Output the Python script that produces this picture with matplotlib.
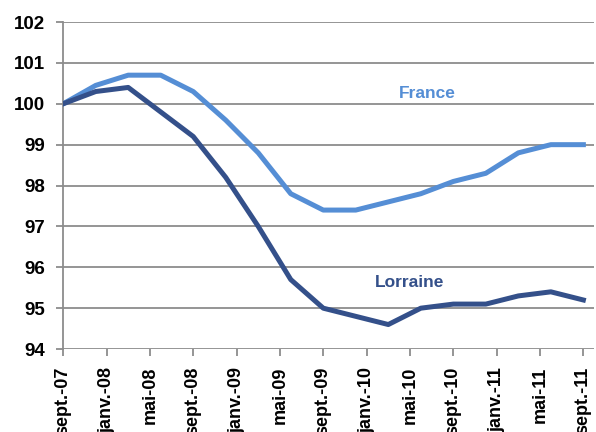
import matplotlib
matplotlib.use('Agg')
import matplotlib.pyplot as plt

plt.rcParams['font.family'] = ['Liberation Sans', 'DejaVu Sans']

# indice base 100 en sept.-07, données trimestrielles
mois = list(range(0, 49, 3))
france = [100, 100.45, 100.7, 100.7, 100.3, 99.6, 98.8, 97.8, 97.4,
          97.4, 97.6, 97.8, 98.1, 98.3, 98.8, 99.0, 99.0]
lorraine = [100, 100.3, 100.4, 99.8, 99.2, 98.2, 97.0, 95.7, 95.0,
            94.8, 94.6, 95.0, 95.1, 95.1, 95.3, 95.4, 95.2]
tick_mois = list(range(0, 49, 4))
tick_labels = ['sept.-07', 'janv.-08', 'mai-08', 'sept.-08', 'janv.-09', 'mai-09',
               'sept.-09', 'janv.-10', 'mai-10', 'sept.-10', 'janv.-11', 'mai-11',
               'sept.-11']

c_france = '#558ed5'
c_lorraine = '#34508a'

fig = plt.figure(figsize=(5.96, 4.32), dpi=100)
ax = fig.add_axes([0.106, 0.192, 0.891, 0.757])

ax.plot(mois, france, color=c_france, lw=3.6, solid_joinstyle='round', zorder=3)
ax.plot(mois, lorraine, color=c_lorraine, lw=3.6, solid_joinstyle='round', zorder=3)

ax.set_ylim(94, 102)
ax.set_xlim(0, 49)
ax.set_yticks(range(94, 103))
ax.set_xticks(tick_mois)
ax.set_xticklabels(tick_labels, rotation=90, fontsize=13, fontweight='bold')
for lab in ax.get_yticklabels():
    lab.set_fontsize(13.5)
    lab.set_fontweight('bold')

ax.yaxis.grid(True, color='#8c8c8c', lw=1.3)
ax.set_axisbelow(True)
for s in ['top', 'right', 'bottom']:
    ax.spines[s].set_visible(False)
ax.spines['left'].set_color('#8c8c8c')
ax.spines['left'].set_linewidth(1.3)
ax.tick_params(axis='both', colors='#8c8c8c', length=5, width=1.3, labelcolor='black')
ax.tick_params(axis='x', pad=8)
ax.tick_params(axis='y', pad=8)

ax.text(33.6, 100.26, 'France', color=c_france, fontsize=12.5, fontweight='bold',
        ha='center', va='center')
ax.text(32.0, 95.64, 'Lorraine', color=c_lorraine, fontsize=12.5, fontweight='bold',
        ha='center', va='center')

fig.savefig('out.png', dpi=100)
